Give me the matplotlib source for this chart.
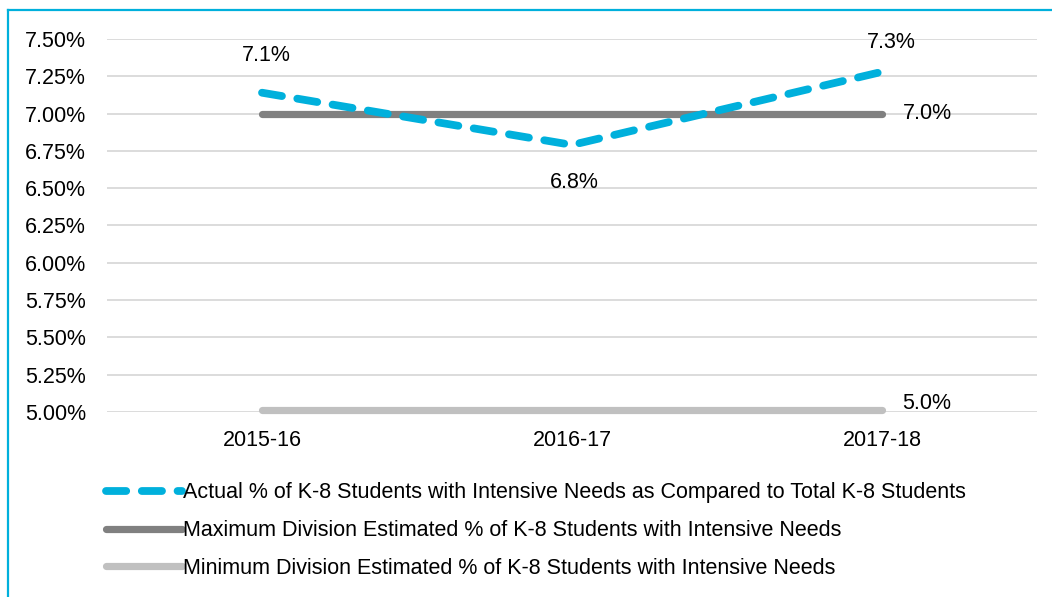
import matplotlib.pyplot as plt
from matplotlib.lines import Line2D
from matplotlib.ticker import FuncFormatter

plt.rcParams['font.family'] = ['Liberation Sans', 'DejaVu Sans']

years = ["2015-16", "2016-17", "2017-18"]
actual = [7.14, 6.79, 7.28]
maximum = [7.0, 7.0, 7.0]
minimum = [5.0, 5.0, 5.0]
actual_labels = ["7.1%", "6.8%", "7.3%"]

names = [
    "Actual % of K-8 Students with Intensive Needs as Compared to Total K-8 Students",
    "Maximum Division Estimated % of K-8 Students with Intensive Needs",
    "Minimum Division Estimated % of K-8 Students with Intensive Needs",
]

cyan = '#00B0DC'
dark = '#808080'
light = '#C0C0C0'
fs = 15.5

fig = plt.figure(figsize=(10.52, 5.97), dpi=100)
ax = fig.add_axes([107 / 1052, 1 - 412 / 597, 930 / 1052, 373 / 597])

x = list(range(len(years)))

ax.plot(x, [m + 0.012 for m in minimum], color=light, lw=5.2,
        solid_capstyle='round', zorder=3, clip_on=False)
ax.plot(x, maximum, color=dark, lw=5.2, solid_capstyle='round', zorder=3)
ln, = ax.plot(x, actual, color=cyan, lw=5.6, dash_capstyle='round',
              zorder=4)
ln.set_dashes((2.6, 2.0))

ax.set_xlim(-0.5, 2.5)
ax.set_ylim(5.0, 7.5)
ax.set_yticks([5.0 + 0.25 * i for i in range(11)])
ax.yaxis.set_major_formatter(FuncFormatter(lambda v, p: f"{v:.2f}%"))
ax.set_xticks(x)
ax.set_xticklabels(years)
ax.tick_params(length=0, labelsize=fs, colors='black')
ax.tick_params(axis='y', pad=15)
ax.tick_params(axis='x', pad=13)
ax.grid(axis='y', color='#D9D9D9', lw=1.3)
ax.set_axisbelow(True)
for s in ax.spines.values():
    s.set_visible(False)

# data labels
ax.annotate(actual_labels[0], (x[0], actual[0]), xytext=(3, 27),
            textcoords='offset points', ha='center', va='center', fontsize=fs)
ax.annotate(actual_labels[1], (x[1], actual[1]), xytext=(2, -27),
            textcoords='offset points', ha='center', va='center', fontsize=fs)
ax.annotate(actual_labels[2], (x[2], actual[2]), xytext=(7, 21),
            textcoords='offset points', ha='center', va='center', fontsize=fs)
ax.annotate(f"{maximum[2]:.1f}%", (x[2], maximum[2]), xytext=(33, 0),
            textcoords='offset points', ha='center', va='center', fontsize=fs)
ax.annotate(f"{minimum[2]:.1f}%", (x[2], minimum[2]), xytext=(32, 6),
            textcoords='offset points', ha='center', va='center', fontsize=fs)

handles = [
    Line2D([], [], color=cyan, lw=5.6, dashes=(2.6, 2.0), dash_capstyle='round'),
    Line2D([], [], color=dark, lw=5.2, solid_capstyle='round'),
    Line2D([], [], color=light, lw=5.2, solid_capstyle='round'),
]
fig.legend(handles, names, loc='upper left', bbox_to_anchor=(87 / 1052, 1 - 463 / 597),
           frameon=False, fontsize=fs, handlelength=3.5, handletextpad=0.08,
           labelspacing=0.78)

# frame around the chart
fig.add_artist(Line2D([8 / 1052, 8 / 1052], [0, 1 - 10 / 597], color=cyan, lw=1.6))
fig.add_artist(Line2D([8 / 1052, 1], [1 - 10 / 597, 1 - 10 / 597], color=cyan, lw=1.6))

fig.savefig("out.png", dpi=100)
